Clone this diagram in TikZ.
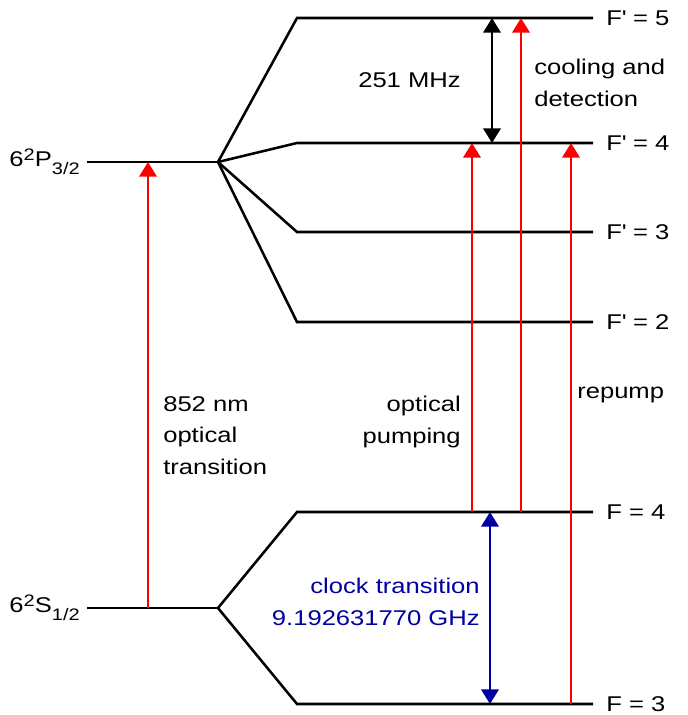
\documentclass[tikz,border=0pt]{standalone}
\usepackage{fontspec}
\setmainfont[FakeStretch=1.2]{Liberation Sans}
\usetikzlibrary{arrows.meta}
\definecolor{laserred}{RGB}{255,0,0}
\definecolor{clockblue}{RGB}{0,0,160}
\newcommand{\lvlsup}[1]{\raisebox{4.7pt}{\fontsize{12.5}{12.5}\selectfont #1}}
\newcommand{\lvlsub}[1]{\raisebox{-6pt}{\fontsize{12.5}{12.5}\selectfont #1}}
\newcommand{\fprime}{F\textquotesingle}

\begin{document}
\begin{tikzpicture}[x=0.75pt, y=-0.75pt,
    every node/.style={font=\fontsize{16}{23.8}\selectfont, inner sep=0pt},
    level/.style={line width=1.9pt, line join=miter},
    beam/.style={laserred, line width=2.1pt, -{Triangle[width=13pt, length=11pt]}},
    gap/.style={line width=1.9pt, {Triangle[width=13pt, length=11pt]}-{Triangle[width=13pt, length=11pt]}},
    flabel/.style={anchor=west, xshift=9.75pt}]
\useasboundingbox (0,0) rectangle (688,715);

\coordinate (Pa) at (87,162);
\coordinate (Pfan) at (218,162);
\coordinate (Sa) at (87,608);
\coordinate (Sfan) at (218,608);

\coordinate (Fp5a) at (297,18);  \coordinate (Fp5b) at (593,18);
\coordinate (Fp4a) at (297,143); \coordinate (Fp4b) at (593,143);
\coordinate (Fp3a) at (297,232); \coordinate (Fp3b) at (593,232);
\coordinate (Fp2a) at (297,322); \coordinate (Fp2b) at (593,322);
\coordinate (F4a) at (297,512);  \coordinate (F4b) at (593,512);
\coordinate (F3a) at (297,704);  \coordinate (F3b) at (593,704);

\draw[level] (Pa) -- (Pfan);
\draw[level] (Pfan) -- (Fp5a) -- (Fp5b);
\draw[level] (Pfan) -- (Fp4a) -- (Fp4b);
\draw[level] (Pfan) -- (Fp3a) -- (Fp3b);
\draw[level] (Pfan) -- (Fp2a) -- (Fp2b);
\draw[level] (Sa) -- (Sfan);
\draw[level] (Sfan) -- (F4a) -- (F4b);
\draw[level] (Sfan) -- (F3a) -- (F3b);

\node[anchor=east, xshift=-5.25pt] (Plabel) at (Pa) {6\lvlsup{2}P\lvlsub{3/2}};
\node[anchor=east, xshift=-5.25pt] (Slabel) at (Sa) {6\lvlsup{2}S\lvlsub{1/2}};

\node[flabel] (Fp5) at (Fp5b) {\fprime{} = 5};
\node[flabel] (Fp4) at (Fp4b) {\fprime{} = 4};
\node[flabel] (Fp3) at (Fp3b) {\fprime{} = 3};
\node[flabel] (Fp2) at (Fp2b) {\fprime{} = 2};
\node[flabel] (F4) at (F4b) {F = 4};
\node[flabel] (F3) at (F3b) {F = 3};

\coordinate (xd2) at (148,0);
\coordinate (xpump) at (472,0);
\coordinate (xcool) at (521,0);
\coordinate (xrepump) at (571,0);
\coordinate (xhfs) at (492,0);
\coordinate (xclock) at (490,0);

\draw[gap] (xhfs |- Fp5a) -- (xhfs |- Fp4a);
\draw[gap, clockblue, line width=2.1pt] (xclock |- F4a) -- (xclock |- F3a);

\draw[beam] (xd2 |- Sa) -- (xd2 |- Pa);
\draw[beam] (xpump |- F4a) -- (xpump |- Fp4a);
\draw[beam] (xcool |- F4a) -- (xcool |- Fp5a);
\draw[beam] (xrepump |- F3a) -- (xrepump |- Fp4a);

\node[anchor=base west] (hfs) at (358,87) {251 MHz};
\node[anchor=north west, align=left] (cool) at (534,59) {cooling and\\detection};
\node[anchor=north west, align=left] (d2) at (163,396) {852 nm\\optical\\transition};
\node[anchor=north east, align=right] (pump) at (461,396) {optical\\pumping};
\node[anchor=base west] (repump) at (577,398) {repump};
\node[anchor=north east, align=right, text=clockblue] (clock) at (480,578) {clock transition\\9.192631770 GHz};
\end{tikzpicture}
\end{document}
